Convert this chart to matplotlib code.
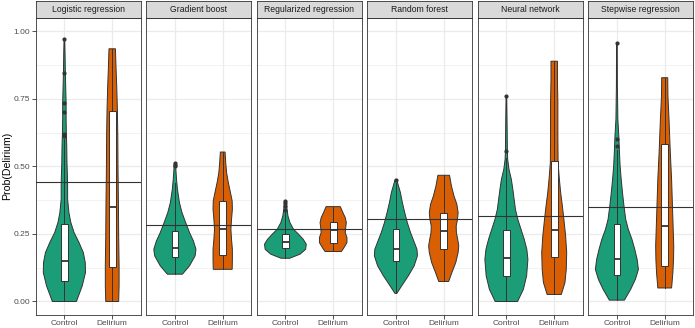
import matplotlib
matplotlib.use("Agg")
import matplotlib.pyplot as plt
from matplotlib.patches import Rectangle
import numpy as np

plt.rcParams['font.family'] = ['Liberation Sans', 'DejaVu Sans']

models = ["Logistic regression", "Gradient boost", "Regularized regression",
          "Random forest", "Neural network", "Stepwise regression"]
groups = ["Control", "Delirium"]
group_colors = ["#1B9E77", "#D95F02"]
y_ticks = [0.00, 0.25, 0.50, 0.75, 1.00]
y_tick_labels = ["0.00", "0.25", "0.50", "0.75", "1.00"]

# overall threshold line per model
thresholds = [0.441, 0.283, 0.270, 0.307, 0.315, 0.348]

# box statistics (lower whisker, q1, median, q3, upper whisker)
ctrl_lo = [0.000, 0.101, 0.160, 0.030, 0.000, 0.005]
ctrl_q1 = [0.076, 0.163, 0.197, 0.148, 0.095, 0.097]
ctrl_med = [0.148, 0.198, 0.220, 0.193, 0.161, 0.159]
ctrl_q3 = [0.288, 0.260, 0.249, 0.267, 0.266, 0.287]
ctrl_hi = [0.600, 0.440, 0.330, 0.440, 0.530, 0.560]
ctrl_outliers = [[0.612, 0.620, 0.700, 0.735, 0.846, 0.972],
                 [0.500, 0.505, 0.511],
                 [0.339, 0.354, 0.365, 0.372],
                 [0.448],
                 [0.556, 0.760],
                 [0.575, 0.602, 0.957]]

deli_lo = [0.000, 0.119, 0.185, 0.074, 0.026, 0.050]
deli_q1 = [0.129, 0.173, 0.218, 0.196, 0.165, 0.132]
deli_med = [0.351, 0.270, 0.263, 0.260, 0.265, 0.278]
deli_q3 = [0.705, 0.372, 0.293, 0.329, 0.520, 0.584]
deli_hi = [0.935, 0.553, 0.351, 0.467, 0.889, 0.828]

# violin profiles: probability levels and relative density (1 = widest)
ctrl_vy = [
    [0.0, 0.058, 0.107, 0.144, 0.181, 0.218, 0.255, 0.292, 0.329, 0.378, 0.427,
     0.464, 0.514, 0.575, 0.625, 0.674, 0.735, 0.797, 0.846, 0.920, 0.972],
    [0.101, 0.132, 0.169, 0.193, 0.224, 0.255, 0.292, 0.329, 0.366, 0.415, 0.452, 0.489, 0.511],
    [0.160, 0.175, 0.193, 0.212, 0.230, 0.249, 0.267, 0.292, 0.316, 0.341, 0.372],
    [0.030, 0.058, 0.095, 0.132, 0.169, 0.193, 0.218, 0.255, 0.292, 0.329, 0.366, 0.403, 0.440, 0.452],
    [0.0, 0.045, 0.095, 0.156, 0.193, 0.230, 0.267, 0.304, 0.341, 0.378, 0.415, 0.452,
     0.489, 0.526, 0.556, 0.674, 0.758],
    [0.005, 0.045, 0.082, 0.119, 0.156, 0.193, 0.230, 0.267, 0.304, 0.353, 0.403, 0.452,
     0.501, 0.551, 0.612, 0.674, 0.797, 0.957],
]
ctrl_vd = [
    [0.56, 0.83, 0.98, 0.97, 0.88, 0.68, 0.45, 0.30, 0.21, 0.15, 0.15,
     0.14, 0.12, 0.11, 0.09, 0.08, 0.08, 0.06, 0.045, 0.03, 0.015],
    [0.35, 0.68, 0.94, 0.98, 0.86, 0.68, 0.50, 0.33, 0.21, 0.12, 0.076, 0.045, 0.03],
    [0.20, 0.68, 0.94, 0.97, 0.83, 0.61, 0.38, 0.21, 0.12, 0.076, 0.045],
    [0.045, 0.27, 0.58, 0.85, 1.0, 0.98, 0.86, 0.68, 0.53, 0.41, 0.30, 0.21, 0.076, 0.03],
    [0.52, 0.79, 0.94, 1.0, 0.95, 0.83, 0.68, 0.53, 0.42, 0.36, 0.30, 0.23,
     0.12, 0.06, 0.045, 0.03, 0.015],
    [0.35, 0.64, 0.86, 1.0, 0.94, 0.83, 0.70, 0.53, 0.41, 0.33, 0.26, 0.20,
     0.15, 0.12, 0.09, 0.045, 0.023, 0.015],
]
deli_vy = [
    [0.0, 0.058, 0.132, 0.243, 0.353, 0.489, 0.612, 0.711, 0.797, 0.859, 0.935],
    [0.119, 0.156, 0.193, 0.230, 0.267, 0.304, 0.341, 0.372, 0.403, 0.440, 0.477, 0.514, 0.553],
    [0.185, 0.199, 0.218, 0.236, 0.255, 0.273, 0.292, 0.310, 0.329, 0.351],
    [0.074, 0.107, 0.144, 0.181, 0.206, 0.230, 0.255, 0.279, 0.304, 0.329, 0.360, 0.390, 0.427, 0.467],
    [0.026, 0.070, 0.119, 0.181, 0.243, 0.304, 0.353, 0.403, 0.452, 0.514, 0.612, 0.735, 0.821, 0.889],
    [0.050, 0.107, 0.156, 0.206, 0.279, 0.353, 0.452, 0.551, 0.674, 0.760, 0.828],
]
deli_vd = [
    [0.30, 0.32, 0.32, 0.30, 0.29, 0.27, 0.26, 0.24, 0.21, 0.18, 0.15],
    [0.44, 0.45, 0.45, 0.41, 0.38, 0.41, 0.45, 0.44, 0.36, 0.26, 0.18, 0.14, 0.11],
    [0.38, 0.50, 0.64, 0.64, 0.56, 0.58, 0.61, 0.56, 0.45, 0.33],
    [0.23, 0.38, 0.56, 0.67, 0.70, 0.65, 0.59, 0.58, 0.64, 0.67, 0.61, 0.48, 0.36, 0.27],
    [0.33, 0.50, 0.56, 0.58, 0.53, 0.45, 0.38, 0.30, 0.24, 0.18, 0.17, 0.17, 0.15, 0.15],
    [0.32, 0.38, 0.41, 0.42, 0.39, 0.36, 0.32, 0.26, 0.20, 0.15, 0.14],
]

W, H = 695, 328
fig = plt.figure(figsize=(W / 100, H / 100), dpi=100)

LINE = "#333333"
GRID = "#EBEBEB"
panel_left0 = 35.7
panel_step = 110.5
panel_w = 105.2
panel_top = 17.7
panel_bot = 315.0
strip_top = 1.0

for i, model in enumerate(models):
    x0 = panel_left0 + i * panel_step
    ax = fig.add_axes([x0 / W, (H - panel_bot) / H, panel_w / W, (panel_bot - panel_top) / H])
    ax.set_xlim(0.4, 2.6)
    ax.set_ylim(-0.05, 1.05)
    ax.set_yticks(y_ticks)
    ax.set_yticks([0.125, 0.375, 0.625, 0.875], minor=True)
    ax.set_xticks([1, 2])
    ax.set_xticklabels(groups)
    ax.grid(True, which="major", color=GRID, lw=0.9, zorder=0)
    ax.grid(True, which="minor", axis="y", color=GRID, lw=0.45, zorder=0)
    ax.set_axisbelow(True)
    ax.tick_params(axis="both", which="major", length=2.7, width=0.6, color=LINE,
                   labelsize=6, labelcolor="#4D4D4D", pad=1.2)
    ax.tick_params(axis="y", which="minor", length=0)
    if i == 0:
        ax.set_yticklabels(y_tick_labels)
    else:
        ax.tick_params(axis="y", which="both", left=False, labelleft=False)
    for sp in ax.spines.values():
        sp.set_color(LINE)
        sp.set_linewidth(0.6)
        sp.set_zorder(10)

    stats = [
        (ctrl_vy[i], ctrl_vd[i], ctrl_lo[i], ctrl_q1[i], ctrl_med[i], ctrl_q3[i], ctrl_hi[i], ctrl_outliers[i]),
        (deli_vy[i], deli_vd[i], deli_lo[i], deli_q1[i], deli_med[i], deli_q3[i], deli_hi[i], []),
    ]
    for g, (vy, vd, lo, q1, med, q3, hi, outs) in enumerate(stats):
        pos = g + 1
        vy = np.asarray(vy)
        hw = 0.45 * np.asarray(vd)
        ax.fill(np.concatenate([pos - hw, (pos + hw)[::-1]]),
                np.concatenate([vy, vy[::-1]]),
                facecolor=group_colors[g], edgecolor=LINE, lw=0.7, zorder=2)
        # whiskers
        ax.plot([pos, pos], [lo, q1], color=LINE, lw=0.7, zorder=3)
        ax.plot([pos, pos], [q3, hi], color=LINE, lw=0.7, zorder=3)
        bw = 0.07
        ax.add_patch(Rectangle((pos - bw, q1), 2 * bw, q3 - q1, facecolor="white",
                               edgecolor=LINE, lw=0.7, zorder=4))
        ax.plot([pos - bw, pos + bw], [med, med], color=LINE, lw=1.3, zorder=5,
                solid_capstyle="butt")
        if outs:
            ax.scatter([pos] * len(outs), outs, s=9, color=LINE, zorder=6, linewidths=0)

    ax.axhline(thresholds[i], color=LINE, lw=0.8, zorder=7)

    # strip
    sax = fig.add_axes([x0 / W, (H - panel_top) / H, panel_w / W, (panel_top - strip_top) / H])
    sax.set_xticks([])
    sax.set_yticks([])
    sax.set_facecolor("#D9D9D9")
    for sp in sax.spines.values():
        sp.set_color(LINE)
        sp.set_linewidth(0.6)
    sax.text(0.5, 0.5, model, ha="center", va="center", fontsize=6.2,
             color="#1A1A1A", transform=sax.transAxes)

fig.text(7 / W, 1 - (panel_top + panel_bot) / 2 / H, "Prob(Delirium)", rotation=90,
         ha="center", va="center", fontsize=7.6, color="black")

fig.savefig("out.png", dpi=100)
